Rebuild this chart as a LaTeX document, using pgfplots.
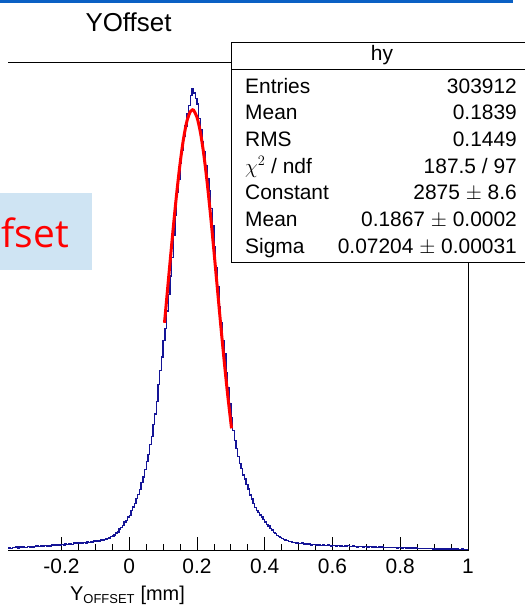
\documentclass[border=0pt]{standalone}
\usepackage{pgfplots}
\pgfplotsset{compat=1.18}
\usepackage{fontspec}
\setmainfont{Liberation Sans}
\newfontfamily\osans{Open Sans}
\definecolor{histblue}{RGB}{20,20,150}
\definecolor{slideblue}{RGB}{10,96,196}
\definecolor{boxblue}{RGB}{207,228,243}
\newcommand{\statfont}{\fontsize{21}{25}\selectfont}

\begin{document}
\begin{tikzpicture}
\useasboundingbox (0,0) rectangle (525bp,606bp);
\clip (0,0) rectangle (525bp,606bp);

% slide decorations
\fill[slideblue] (0,603bp) rectangle (513bp,606bp);
\fill[boxblue] (0,336bp) rectangle (92bp,413bp);
\node[anchor=base west, inner sep=0pt, text=red, font=\osans\fontsize{39}{43}\selectfont] at (1.5bp,358bp) {fset};

% title
\node[anchor=base, inner sep=0pt, font=\fontsize{26}{30}\selectfont] at (128.5bp,574bp) {YOffset};

\begin{axis}[
  at={(8bp,55bp)}, anchor=south west,
  scale only axis, width=460bp, height=488bp,
  xmin=-0.358, xmax=1, ymin=0, ymax=3180,
  axis x line*=bottom, axis y line*=right,
  ytick=\empty,
  xtick={-0.2,0,0.2,0.4,0.6,0.8,1},
  xticklabels={-0.2,0,0.2,0.4,0.6,0.8,1},
  minor x tick num=3,
  tick align=inside,
  major tick length=14bp, minor tick length=7bp,
  xticklabel style={font=\fontsize{21}{25}\selectfont, inner sep=0pt, yshift=-7.5bp},
  axis line style={line width=1bp},
  every tick/.style={black, line width=0.8bp},
]
\addplot[const plot, histblue, line width=1.4bp] coordinates {
(-0.360,19)(-0.355,22)(-0.350,18)(-0.345,24)(-0.340,21)(-0.335,25)(-0.330,20)(-0.325,26)
(-0.320,23)(-0.315,27)(-0.310,24)(-0.305,22)(-0.300,28)(-0.295,25)(-0.290,30)(-0.285,26)
(-0.280,29)(-0.275,33)(-0.270,28)(-0.265,31)(-0.260,35)(-0.255,30)(-0.250,34)(-0.245,31)
(-0.240,37)(-0.235,33)(-0.230,39)(-0.225,35)(-0.220,40)(-0.215,37)(-0.210,43)(-0.205,38)
(-0.200,44)(-0.195,40)(-0.190,47)(-0.185,42)(-0.180,45)(-0.175,49)(-0.170,44)(-0.165,51)
(-0.160,47)(-0.155,53)(-0.150,49)(-0.145,54)(-0.140,51)(-0.135,57)(-0.130,53)(-0.125,59)
(-0.120,56)(-0.115,62)(-0.110,58)(-0.105,65)(-0.100,61)(-0.095,66)(-0.090,64)(-0.085,71)
(-0.080,69)(-0.075,74)(-0.070,78)(-0.065,82)(-0.060,86)(-0.055,93)(-0.050,97)(-0.045,103)
(-0.040,118)(-0.035,124)(-0.030,143)(-0.025,152)(-0.020,168)(-0.015,188)(-0.010,198)(-0.005,221)
(0.000,232)(0.005,262)(0.010,287)(0.015,309)(0.020,344)(0.025,368)(0.030,402)(0.035,447)
(0.040,481)(0.045,533)(0.050,585)(0.055,628)(0.060,694)(0.065,748)(0.070,826)(0.075,893)
(0.080,975)(0.085,1085)(0.090,1176)(0.095,1265)(0.100,1372)(0.105,1448)(0.110,1565)(0.115,1670)
(0.120,1792)(0.125,1912)(0.130,2058)(0.135,2186)(0.140,2335)(0.145,2421)(0.150,2528)(0.155,2610)
(0.160,2705)(0.165,2770)(0.170,2852)(0.175,2904)(0.180,2968)(0.185,3015)(0.190,2985)(0.195,2948)
(0.200,2912)(0.205,2820)(0.210,2745)(0.215,2668)(0.220,2605)(0.225,2512)(0.230,2428)(0.235,2345)
(0.240,2232)(0.245,2118)(0.250,1985)(0.255,1845)(0.260,1725)(0.265,1592)(0.270,1486)(0.275,1372)
(0.280,1284)(0.285,1165)(0.290,1062)(0.295,958)(0.300,868)(0.305,785)(0.310,722)(0.315,668)
(0.320,615)(0.325,572)(0.330,538)(0.335,496)(0.340,468)(0.345,432)(0.350,404)(0.355,366)
(0.360,338)(0.365,308)(0.370,284)(0.375,262)(0.380,251)(0.385,234)(0.390,222)(0.395,205)
(0.400,188)(0.405,171)(0.410,162)(0.415,146)(0.420,136)(0.425,121)(0.430,114)(0.435,102)
(0.440,96)(0.445,87)(0.450,83)(0.455,76)(0.460,71)(0.465,68)(0.470,63)(0.475,61)
(0.480,57)(0.485,55)(0.490,52)(0.495,54)(0.500,49)(0.505,47)(0.510,51)(0.515,45)
(0.520,46)(0.525,43)(0.530,45)(0.535,40)(0.540,43)(0.545,41)(0.550,38)(0.555,42)
(0.560,39)(0.565,36)(0.570,40)(0.575,37)(0.580,35)(0.585,38)(0.590,36)(0.595,33)
(0.600,37)(0.605,34)(0.610,32)(0.615,35)(0.620,33)(0.625,36)(0.630,31)(0.635,33)
(0.640,30)(0.645,34)(0.650,31)(0.655,29)(0.660,32)(0.665,30)(0.670,27)(0.675,31)
(0.680,28)(0.685,29)(0.690,26)(0.695,29)(0.700,27)(0.705,25)(0.710,28)(0.715,26)
(0.720,24)(0.725,26)(0.730,24)(0.735,25)(0.740,23)(0.745,25)(0.750,23)(0.755,22)
(0.760,24)(0.765,22)(0.770,21)(0.775,23)(0.780,21)(0.785,22)(0.790,20)(0.795,22)
(0.800,21)(0.805,19)(0.810,21)(0.815,20)(0.820,18)(0.825,20)(0.830,18)(0.835,19)
(0.840,17)(0.845,19)(0.850,17)(0.855,18)(0.860,17)(0.865,15)(0.870,18)(0.875,16)
(0.880,15)(0.885,16)(0.890,15)(0.895,14)(0.900,16)(0.905,14)(0.910,13)(0.915,15)
(0.920,13)(0.925,14)(0.930,13)(0.935,12)(0.940,14)(0.945,12)(0.950,12)(0.955,13)
(0.960,11)(0.965,12)(0.970,11)(0.975,10)(0.980,12)(0.985,10)(0.990,11)(0.995,10)
(1.000,10)
};
% gaussian fit, 0.104 -- 0.302
\addplot[smooth, red, line width=3bp] coordinates {
(0.104,1487)(0.11,1631)(0.12,1873)(0.13,2109)(0.14,2330)(0.15,2525)(0.16,2684)
(0.17,2799)(0.18,2863)(0.1867,2875)(0.19,2872)(0.20,2826)(0.21,2728)(0.22,2584)
(0.23,2400)(0.24,2186)(0.25,1954)(0.26,1713)(0.27,1473)(0.28,1243)(0.29,1028)
(0.30,835)(0.302,799)
};
\end{axis}

% top frame line
\draw[line width=1bp] (8bp,543bp) -- (468bp,543bp);

% stats box
\draw[fill=white, line width=1bp] (231.5bp,343bp) rectangle (530bp,563.5bp);
\draw[line width=1bp] (231.5bp,536.5bp) -- (530bp,536.5bp);
\node[anchor=base, inner sep=0pt, font=\statfont] at (382bp,545.3bp) {hy};
\begin{scope}[every node/.style={inner sep=0pt, font=\statfont}]
\node[anchor=base west] at (245bp,512.7bp) {Entries};
\node[anchor=base east] at (517bp,512.7bp) {303912};
\node[anchor=base west] at (245bp,486bp) {Mean};
\node[anchor=base east] at (517bp,486bp) {0.1839};
\node[anchor=base west] at (245bp,459.3bp) {RMS};
\node[anchor=base east] at (517bp,459.3bp) {0.1449};
\node[anchor=base west] at (245bp,432.7bp) {$\chi^{2}$ / ndf};
\node[anchor=base east] at (517bp,432.7bp) {187.5 / 97};
\node[anchor=base west] at (245bp,406bp) {Constant};
\node[anchor=base east] at (517bp,406bp) {2875 $\pm$ 8.6};
\node[anchor=base west] at (245bp,379.3bp) {Mean};
\node[anchor=base east] at (517bp,379.3bp) {0.1867 $\pm$ 0.0002};
\node[anchor=base west] at (245bp,352.7bp) {Sigma};
\node[anchor=base east] at (517bp,352.7bp) {0.07204 $\pm$ 0.00031};
\end{scope}

% axis title
\node[anchor=base west, inner sep=0pt, font=\fontsize{20}{24}\selectfont] at (70bp,6bp)
  {Y\textsubscript{\fontsize{13}{15}\selectfont OFFSET} [mm]};
\end{tikzpicture}
\end{document}
